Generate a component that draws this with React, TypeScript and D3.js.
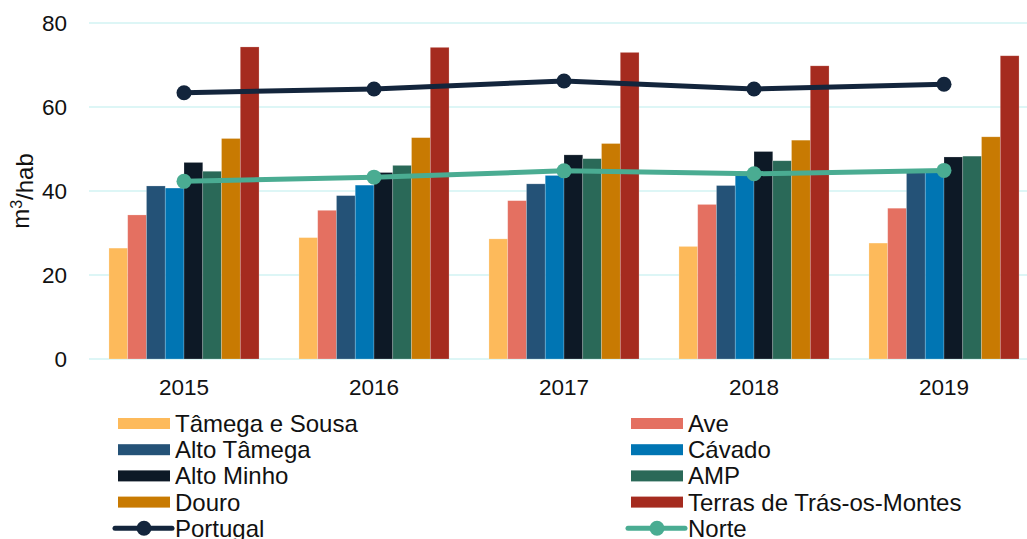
import React, { useEffect, useRef } from 'react';
import * as d3 from 'd3';

const years = ['2015', '2016', '2017', '2018', '2019'];
const regions = [
  'Tâmega e Sousa',
  'Ave',
  'Alto Tâmega',
  'Cávado',
  'Alto Minho',
  'AMP',
  'Douro',
  'Terras de Trás-os-Montes',
];
const tamegaSousa = [26.4, 28.9, 28.6, 26.8, 27.6];
const ave = [34.3, 35.4, 37.7, 36.8, 35.9];
const altoTamega = [41.2, 38.9, 41.7, 41.3, 44.5];
const cavado = [40.7, 41.4, 43.7, 44.2, 44.7];
const altoMinho = [46.8, 44.4, 48.6, 49.4, 48.1];
const amp = [44.7, 46.1, 47.7, 47.2, 48.3];
const douro = [52.5, 52.7, 51.3, 52.1, 52.9];
const terrasTrasMontes = [74.3, 74.2, 73.0, 69.8, 72.2];
const portugal = [63.4, 64.3, 66.2, 64.3, 65.4];
const norte = [42.3, 43.3, 44.8, 44.1, 44.9];
const yTicks = [0, 20, 40, 60, 80];

const barSeries = [tamegaSousa, ave, altoTamega, cavado, altoMinho, amp, douro, terrasTrasMontes];
const barColors = ['#FDBA5B', '#E47061', '#245277', '#0075B3', '#0D1926', '#2A6958', '#C87A02', '#A52B1F'];
const lineSeries = [
  { name: 'Portugal', values: portugal, color: '#13253C' },
  { name: 'Norte', values: norte, color: '#4AAC92' },
];

const App = () => {
  const svgRef = useRef<SVGSVGElement>(null);

  useEffect(() => {
    const svg = d3.select(svgRef.current);
    svg.selectAll('*').remove();

    const width = 1027;
    const font = '"Liberation Sans", Arial, sans-serif';
    const margin = { left: 89, top: 23, bottom: 359 };

    const x = d3.scaleBand().domain(years).range([margin.left, margin.left + 190 * 5]).paddingInner(0.21).paddingOuter(0.105);
    const xi = d3.scaleBand().domain(regions).range([0, x.bandwidth()]);
    const y = d3.scaleLinear().domain([0, 80]).range([margin.bottom, margin.top]);

    // gridlines
    svg.append('g')
      .selectAll('line')
      .data(yTicks)
      .join('line')
      .attr('x1', margin.left)
      .attr('x2', width)
      .attr('y1', d => y(d))
      .attr('y2', d => y(d))
      .attr('stroke', '#D2F3F3')
      .attr('stroke-width', 1.5);

    // y tick labels
    svg.append('g')
      .selectAll('text')
      .data(yTicks)
      .join('text')
      .attr('x', 67)
      .attr('y', d => y(d))
      .attr('dy', '0.35em')
      .attr('text-anchor', 'end')
      .style('font-family', font)
      .style('font-size', '22.5px')
      .attr('fill', '#111')
      .text(d => d);

    // x labels
    svg.append('g')
      .selectAll('text')
      .data(years)
      .join('text')
      .attr('x', d => (x(d) as number) + x.bandwidth() / 2)
      .attr('y', 387)
      .attr('dy', '0.35em')
      .attr('text-anchor', 'middle')
      .style('font-family', font)
      .style('font-size', '22.5px')
      .attr('fill', '#111')
      .text(d => d);

    // y title
    const yt = svg.append('text')
      .attr('transform', 'translate(21,191) rotate(-90)')
      .attr('text-anchor', 'middle')
      .attr('dy', '0.35em')
      .style('font-family', font)
      .style('font-size', '24px')
      .attr('fill', '#111');
    yt.append('tspan').text('m');
    yt.append('tspan').attr('dy', '-0.45em').style('font-size', '16px').text('3');
    yt.append('tspan').attr('dy', '0.45em').text('/hab');

    // bars
    years.forEach((yr, i) => {
      svg.append('g')
        .selectAll('rect')
        .data(regions)
        .join('rect')
        .attr('x', r => (x(yr) as number) + (xi(r) as number))
        .attr('y', (r, j) => y(barSeries[j][i]))
        .attr('width', xi.bandwidth())
        .attr('height', (r, j) => y(0) - y(barSeries[j][i]))
        .attr('fill', (r, j) => barColors[j])
        .attr('stroke', '#fff')
        .attr('stroke-opacity', 0.3)
        .attr('stroke-width', 0.7);
    });

    // lines
    const cx = (i: number) => (x(years[i]) as number) + x.bandwidth() / 2;
    lineSeries.forEach(s => {
      const line = d3.line<number>().x((d, i) => cx(i)).y(d => y(d));
      svg.append('path')
        .attr('d', line(s.values))
        .attr('fill', 'none')
        .attr('stroke', s.color)
        .attr('stroke-width', 5)
        .attr('stroke-linejoin', 'round');
      svg.append('g')
        .selectAll('circle')
        .data(s.values)
        .join('circle')
        .attr('cx', (d, i) => cx(i))
        .attr('cy', d => y(d))
        .attr('r', 7.5)
        .attr('fill', s.color);
    });

    // legend
    const legendItems = [
      ...regions.map((r, j) => ({ name: r, color: barColors[j], line: false })),
      ...lineSeries.map(s => ({ name: s.name, color: s.color, line: true })),
    ];
    const colX = [118, 631];
    const rowY = (k: number) => 423.5 + k * 26.2;
    const lg = svg.append('g');
    legendItems.forEach((item, k) => {
      const cxl = colX[k % 2];
      const cy = rowY(Math.floor(k / 2));
      if (item.line) {
        lg.append('line')
          .attr('x1', cxl - 3).attr('x2', cxl + 54)
          .attr('y1', cy).attr('y2', cy)
          .attr('stroke', item.color)
          .attr('stroke-width', 5)
          .attr('stroke-linecap', 'round');
        lg.append('circle').attr('cx', cxl + 26).attr('cy', cy).attr('r', 7.5).attr('fill', item.color);
      } else {
        lg.append('rect')
          .attr('x', cxl).attr('y', cy - 5.5)
          .attr('width', 52).attr('height', 11)
          .attr('fill', item.color);
      }
      lg.append('text')
        .attr('x', cxl + 57)
        .attr('y', cy)
        .attr('dy', '0.35em')
        .style('font-family', font)
        .style('font-size', '24px')
        .attr('fill', '#111')
        .text(item.name);
    });
  }, []);

  return (
    <svg
      ref={svgRef}
      width="1027"
      height="539"
      style={{ position: 'absolute', left: 0, top: 0, background: '#fff' }}
    ></svg>
  );
};

export default App;
